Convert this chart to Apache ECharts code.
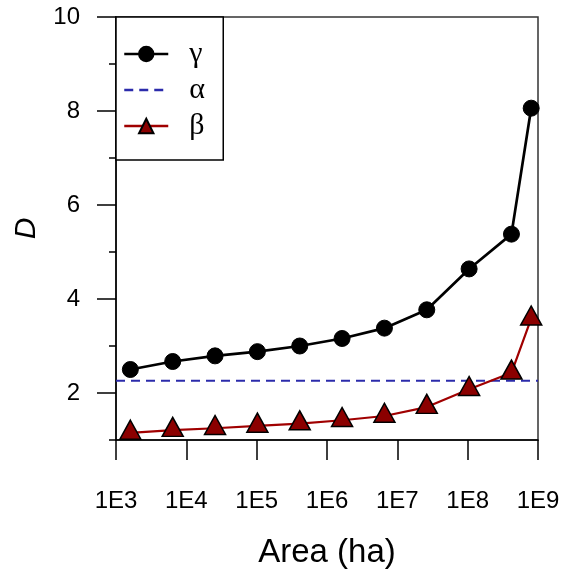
<!DOCTYPE html>
<html>
<head>
<meta charset="utf-8">
<script src="https://cdn.jsdelivr.net/npm/echarts@6/dist/echarts.min.js"></script>
<style>
html,body{margin:0;padding:0;background:#fff;}
#chart{width:562px;height:569px;}
</style>
</head>
<body>
<div id="chart"></div>
<script>
// Data
const areaHa = [1600, 6400, 25600, 102400, 409600, 1638400, 6553600, 26214400, 104857600, 419430400, 800000000];
const gammaD = [2.50, 2.67, 2.79, 2.88, 3.00, 3.16, 3.38, 3.77, 4.64, 5.38, 8.06];
const betaD  = [1.15, 1.21, 1.25, 1.30, 1.35, 1.42, 1.51, 1.70, 2.08, 2.43, 3.58];
const alphaX = [1e3, 1e9];
const alphaD = [2.26, 2.26];
const xTickValues = [1e3, 1e4, 1e5, 1e6, 1e7, 1e8, 1e9];
const xTickLabels = ['1E3', '1E4', '1E5', '1E6', '1E7', '1E8', '1E9'];
const yLabelValues = [2, 4, 6, 8, 10];
const seriesNames = ['\u03b3', '\u03b1', '\u03b2'];

const pair = (xs, ys) => xs.map((x, i) => [x, ys[i]]);

const chart = echarts.init(document.getElementById('chart'), null, {renderer: 'canvas'});
const sans = '"Liberation Sans", Arial, sans-serif';
const serif = '"Liberation Serif", "Times New Roman", serif';

chart.setOption({
  animation: false,
  backgroundColor: '#fff',
  grid: {left: 116, right: 24, top: 17, bottom: 129, show: true, borderColor: '#333', borderWidth: 1.5,
         containLabel: false, outerBoundsMode: 'none'},
  legend: {
    orient: 'vertical',
    left: 116, top: 17,
    data: [
      {name: seriesNames[0], lineStyle: {width: 2.5}},
      {name: seriesNames[1], lineStyle: {width: 2.5}, itemStyle: {opacity: 0, color: 'transparent', borderWidth: 0}},
      {name: seriesNames[2], lineStyle: {width: 2.5}}
    ],
    itemWidth: 44, itemHeight: 18,
    itemGap: 6,
    padding: [22, 14, 19, 7],
    borderColor: '#000', borderWidth: 1.5,
    backgroundColor: '#fff',
    textStyle: {fontFamily: serif, fontSize: 30, color: '#000', lineHeight: 30, padding: [0, 0, 0, 16], width: 20}
  },
  xAxis: {
    type: 'log', logBase: 10, min: 1e3, max: 1e9,
    axisLine: {lineStyle: {color: '#000', width: 1.5}},
    axisTick: {show: true, inside: false, length: 20, lineStyle: {color: '#000', width: 1.5}, customValues: xTickValues},
    axisLabel: {
      margin: 49, fontSize: 24, fontFamily: sans, color: '#000',
      customValues: xTickValues,
      formatter: v => xTickLabels[xTickValues.findIndex(t => Math.abs(Math.log10(t) - Math.log10(v)) < 1e-6)] || ''
    },
    splitLine: {show: false},
    name: 'Area (ha)', nameLocation: 'middle', nameGap: 96,
    nameTextStyle: {fontSize: 33, fontFamily: sans, color: '#000'}
  },
  yAxis: [{
    type: 'value', min: 1, max: 10, interval: 1,
    axisLine: {show: true, lineStyle: {color: '#000', width: 1.5}},
    axisTick: {show: true, inside: false, length: 19, lineStyle: {color: '#000', width: 1.5}, customValues: yLabelValues},
    axisLabel: {margin: 36, fontSize: 24, fontFamily: sans, color: '#000', customValues: yLabelValues},
    splitLine: {show: false},
    name: 'D', nameLocation: 'middle', nameGap: 74, nameRotate: 90,
    nameTextStyle: {fontSize: 30, fontFamily: sans, fontStyle: 'italic', color: '#000'}
  }, {
    type: 'value', min: 1, max: 10, interval: 1, position: 'left',
    axisLine: {show: false},
    axisTick: {show: true, inside: false, length: 7, lineStyle: {color: '#000', width: 1.5}},
    axisLabel: {show: false},
    splitLine: {show: false}
  }],
  series: [{
    name: seriesNames[0], type: 'line', yAxisIndex: 0, clip: false,
    data: pair(areaHa, gammaD),
    symbol: 'circle', symbolSize: 16,
    lineStyle: {color: '#000', width: 2.7},
    itemStyle: {color: '#000', borderColor: '#000', borderWidth: 1}
  }, {
    name: seriesNames[1], type: 'line', yAxisIndex: 0, clip: false,
    data: pair(alphaX, alphaD),
    symbol: 'none',
    lineStyle: {color: '#2b2bab', width: 2, type: [9, 6]},
    itemStyle: {color: '#2b2bab'}
  }, {
    name: seriesNames[2], type: 'line', yAxisIndex: 0, clip: false,
    data: pair(areaHa, betaD),
    symbol: 'triangle', symbolSize: [21, 19], symbolOffset: [0, '-17%'],
    lineStyle: {color: '#a00000', width: 2.2},
    itemStyle: {color: '#8b0000', borderColor: '#000', borderWidth: 1.5}
  }]
});
</script>
</body>
</html>
